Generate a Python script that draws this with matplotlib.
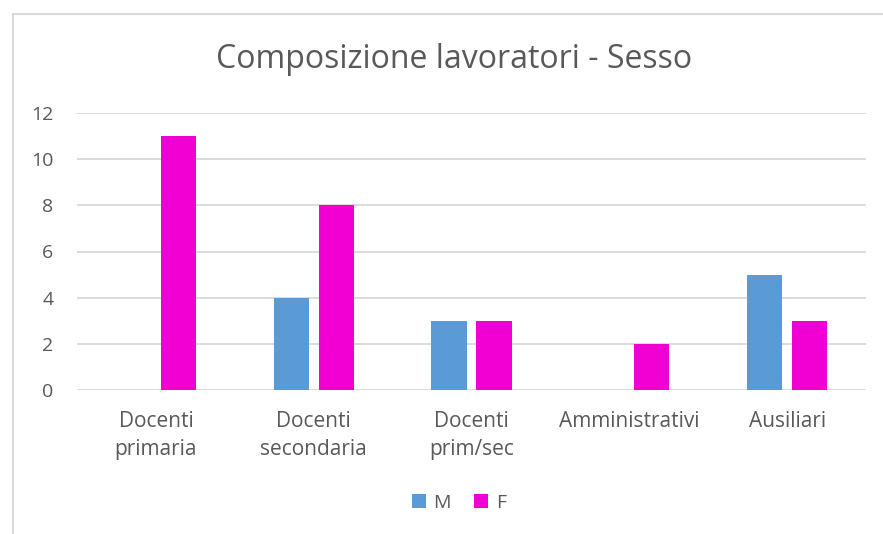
import numpy as np
import matplotlib.pyplot as plt
from matplotlib.patches import Rectangle

plt.rcParams['font.family'] = ['Open Sans', 'DejaVu Sans']

categories = ['Docenti\nprimaria', 'Docenti\nsecondaria', 'Docenti\nprim/sec', 'Amministrativi', 'Ausiliari']
m_values = [0, 4, 3, 0, 5]
f_values = [11, 8, 3, 2, 3]
series_names = ['M', 'F']
title = 'Composizione lavoratori - Sesso'

text_col = '#595959'
grid_col = '#D9D9D9'
m_col = '#5B9BD5'
f_col = '#F000D2'

W, H = 883, 534
fig = plt.figure(figsize=(W / 100, H / 100), dpi=100)
ax = fig.add_axes([77 / W, 1 - 390 / H, (866 - 77) / W, (390 - 113) / H])

x = np.arange(len(categories))
bw = 0.222
off = 0.1426
ax.bar(x - off, m_values, bw, color=m_col, linewidth=0, label=series_names[0])
ax.bar(x + off, f_values, bw, color=f_col, linewidth=0, label=series_names[1])

ax.set_xlim(-0.5, len(categories) - 0.5)
ax.set_ylim(0, 12)
ax.set_yticks(range(0, 13, 2))
ax.set_xticks(x)
ax.set_xticklabels(categories, linespacing=1.42)
ax.yaxis.grid(True, color=grid_col, linewidth=1.3)
ax.set_axisbelow(True)
for s in ax.spines.values():
    s.set_visible(False)
ax.tick_params(axis='both', length=0, labelcolor=text_col)
ax.tick_params(axis='y', pad=17, labelsize=14)
ax.tick_params(axis='x', pad=15, labelsize=15)

fig.text(454 / W, 1 - 60 / H, title, ha='center', va='center', fontsize=23, color=text_col)

leg = fig.legend(loc='center', bbox_to_anchor=(459 / W, 1 - 503 / H), ncol=2, frameon=False,
                 fontsize=14, handlelength=0.7, handleheight=0.7, handletextpad=0.4,
                 columnspacing=1.2, labelcolor=text_col)

# chart area border (only top/left visible in the crop)
fig.add_artist(Rectangle((13 / W, -0.1), 1.0, 1 - 14 / H + 0.1, transform=fig.transFigure,
                         fill=False, edgecolor=grid_col, linewidth=1.5))

fig.savefig('out.png', dpi=100)
